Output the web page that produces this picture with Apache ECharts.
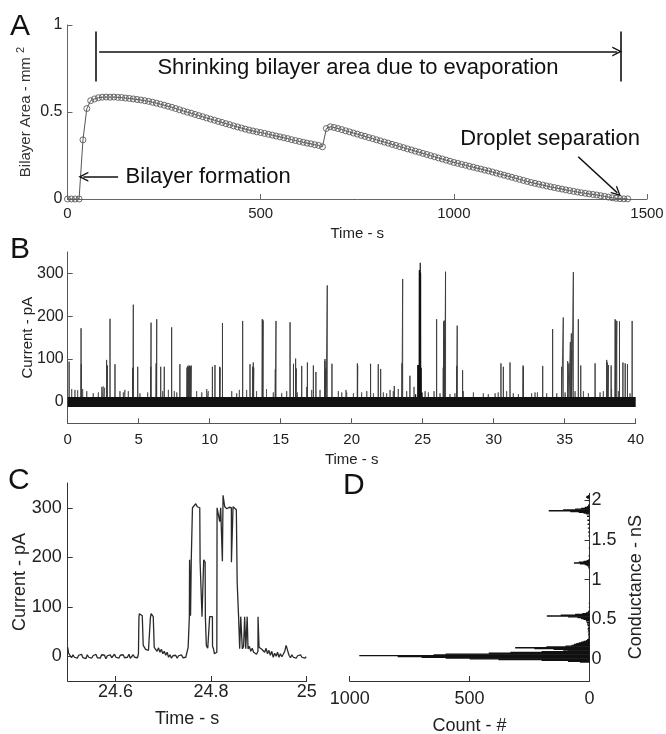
<!DOCTYPE html>
<html><head><meta charset="utf-8">
<script src="https://cdn.jsdelivr.net/npm/echarts@6/dist/echarts.min.js"></script>
<style>html,body{margin:0;padding:0;background:#fff}#c{width:666px;height:734px}</style>
</head><body><div id="c"></div>
<script>
// ---------- Panel A: bilayer area vs time ----------
const aTime = [0,10,20,30,40,50,60,70,80,90,100,110,120,130,140,150,160,170,180,190,200,210,220,230,240,250,260,270,280,290,300,310,320,330,340,350,360,370,380,390,400,410,420,430,440,450,460,470,480,490,500,510,520,530,540,550,560,570,580,590,600,610,620,630,640,650,660,670,680,690,700,710,720,730,740,750,760,770,780,790,800,810,820,830,840,850,860,870,880,890,900,910,920,930,940,950,960,970,980,990,1000,1010,1020,1030,1040,1050,1060,1070,1080,1090,1100,1110,1120,1130,1140,1150,1160,1170,1180,1190,1200,1210,1220,1230,1240,1250,1260,1270,1280,1290,1300,1310,1320,1330,1340,1350,1360,1370,1380,1390,1400,1410,1420,1430,1440,1450];
const aArea = [0,0,0,0,0.34,0.52,0.565,0.575,0.582,0.585,0.586,0.585,0.586,0.584,0.583,0.580,0.578,0.575,0.572,0.569,0.565,0.561,0.556,0.551,0.545,0.539,0.533,0.527,0.520,0.513,0.506,0.499,0.493,0.486,0.479,0.473,0.466,0.459,0.453,0.446,0.440,0.433,0.427,0.420,0.414,0.408,0.402,0.396,0.391,0.386,0.382,0.377,0.372,0.367,0.362,0.357,0.352,0.347,0.341,0.336,0.331,0.326,0.321,0.317,0.312,0.308,0.300,0.405,0.415,0.411,0.405,0.399,0.392,0.386,0.379,0.373,0.366,0.360,0.353,0.347,0.340,0.334,0.327,0.321,0.314,0.308,0.301,0.295,0.288,0.282,0.275,0.269,0.262,0.256,0.249,0.243,0.236,0.230,0.223,0.217,0.210,0.205,0.199,0.194,0.188,0.183,0.177,0.172,0.166,0.161,0.155,0.149,0.143,0.137,0.131,0.125,0.119,0.113,0.107,0.101,0.095,0.090,0.085,0.080,0.075,0.070,0.066,0.061,0.057,0.052,0.048,0.044,0.040,0.036,0.033,0.029,0.026,0.023,0.019,0.015,0.011,0.007,0.004,0.002,0.001,0.001];
const aXTicks = [0,500,1000,1500];
const aYTicks = [0,0.5,1];

// ---------- Panel B: current trace, 40 s ----------
const bSpikeTime = [0.10,0.94,0.96,2.74,2.80,2.98,3.33,4.58,4.60,4.62,4.93,5.85,5.87,6.23,6.25,6.27,6.55,6.80,7.32,7.90,8.40,8.45,8.50,8.55,8.60,8.65,8.70,10.19,10.37,10.70,10.73,10.90,12.32,12.84,13.03,13.07,13.10,13.70,13.73,13.76,14.62,14.67,15.66,15.90,16.05,16.10,16.48,16.88,17.30,17.48,18.10,18.12,18.16,18.20,18.28,18.61,20.40,20.42,21.33,21.87,22.04,23.00,23.54,23.59,24.10,25.98,26.45,26.48,26.52,26.55,26.61,27.40,27.43,27.81,30.51,30.68,31.15,32.07,32.09,33.45,34.15,34.79,34.90,35.21,35.30,35.40,35.47,35.50,35.61,35.96,36.13,37.14,37.96,38.00,38.08,38.27,38.55,38.60,38.67,38.86,39.10,39.26,39.42,39.75];
const bSpikeHeight = [94,172,88,98,85,194,88,78,80,227,82,82,185,90,88,193,82,82,174,88,80,84,82,85,84,82,85,82,86,82,80,184,189,88,82,92,80,193,192,190,76,189,186,89,101,78,84,92,85,70,95,100,74,80,272,89,90,85,89,88,77,37,90,287,61,193,80,188,190,150,304,84,178,74,90,82,92,85,82,84,170,82,197,95,90,140,160,120,303,193,85,90,98,92,86,85,193,190,189,188,92,90,88,189];
const bSmallTime = [0.28,0.51,0.70,1.05,1.34,1.80,2.16,2.40,2.50,2.60,3.68,3.92,4.03,4.27,5.09,5.63,6.69,7.09,7.51,7.68,9.08,9.44,9.79,9.90,11.55,11.90,12.09,12.60,13.30,14.00,14.48,15.07,15.42,16.17,16.83,17.18,17.77,19.06,19.30,19.60,19.65,20.12,20.70,21.06,21.53,22.23,22.46,22.70,22.93,23.28,23.87,24.39,25.17,25.40,25.80,26.22,26.92,27.27,27.86,28.57,29.27,29.62,30.10,30.32,30.91,31.38,31.74,32.67,32.91,33.08,33.73,34.44,35.03,35.73,36.32,36.67,37.49,37.72,38.30,38.78,39.60];
const bSmallHeight = [30,28,27,30,25,20,22,35,36,33,25,22,28,25,20,22,25,28,25,22,25,22,30,25,25,20,28,28,25,30,22,20,25,22,35,28,28,25,22,28,22,20,22,25,20,22,20,28,25,30,25,35,25,22,25,20,18,20,25,22,20,18,20,22,25,20,18,20,22,22,20,20,22,25,25,20,22,25,30,25,20];
const bBaselineTime = [0, 40];
const bBaselineLevel = [0, 0];
const bXTicks = [0,5,10,15,20,25,30,35,40];
const bYTicks = [0,100,200,300];

// ---------- Panel C: zoom 24.5 - 25 s ----------
const cTime = [24.500,24.502,24.505,24.508,24.511,24.514,24.517,24.520,24.523,24.526,24.529,24.532,24.535,24.538,24.541,24.544,24.547,24.550,24.553,24.556,24.559,24.562,24.565,24.568,24.571,24.574,24.577,24.580,24.583,24.586,24.589,24.592,24.595,24.598,24.601,24.604,24.607,24.610,24.613,24.616,24.619,24.622,24.625,24.628,24.631,24.634,24.637,24.640,24.643,24.646,24.6480,24.6490,24.6500,24.6520,24.6540,24.6560,24.6570,24.6580,24.6600,24.6630,24.6660,24.6690,24.6720,24.6730,24.6745,24.6770,24.6790,24.6800,24.6810,24.6840,24.6870,24.6900,24.6930,24.6960,24.6990,24.7020,24.7050,24.7080,24.7110,24.7140,24.7170,24.7200,24.7230,24.7260,24.7290,24.7320,24.7350,24.7380,24.7410,24.7440,24.7470,24.7500,24.7520,24.7535,24.7545,24.7550,24.7565,24.7570,24.7580,24.7585,24.7600,24.7610,24.7650,24.7680,24.7710,24.7740,24.7763,24.7770,24.7800,24.7810,24.7830,24.7845,24.7875,24.7880,24.7895,24.7900,24.7930,24.7960,24.7970,24.8000,24.8027,24.8030,24.8050,24.8070,24.8100,24.8120,24.8125,24.8160,24.8180,24.8200,24.8230,24.8236,24.8245,24.8250,24.8265,24.8285,24.8330,24.8380,24.8424,24.8425,24.8455,24.8459,24.8500,24.8528,24.8545,24.8575,24.8590,24.8598,24.8610,24.8620,24.8640,24.8653,24.8680,24.8702,24.8720,24.8725,24.8740,24.8755,24.8770,24.8772,24.8800,24.8830,24.8860,24.8890,24.8920,24.8950,24.8980,24.8982,24.9000,24.9003,24.9030,24.9060,24.9090,24.9120,24.9150,24.9180,24.9210,24.9240,24.9270,24.9300,24.9330,24.9360,24.9390,24.9420,24.9450,24.9480,24.9510,24.9540,24.9570,24.9600,24.9630,24.9660,24.9690,24.9720,24.9750,24.9780,24.9810,24.9840,24.9870,24.9900,24.9930,24.9960,24.9990];
const cCurrent = [18,6,2,-3,3,-2,1,-4,2,-1,4,-3,0,-5,3,-2,2,-4,1,-2,4,-3,0,-4,3,-1,2,-5,1,-2,3,-3,0,4,-2,1,-4,2,-1,3,-3,1,-2,4,-4,0,3,-2,2,-3,5,78,86,84,88,82,80,22,18,14,18,12,15,78,86,84,80,82,18,14,10,17,8,14,5,10,2,8,-2,3,-4,1,-3,2,-4,1,-2,3,-3,0,-2,2,18,22,80,195,192,82,80,194,190,300,303,308,302,300,300,190,192,80,78,195,190,80,78,22,16,20,80,82,80,20,15,5,3,8,300,298,272,300,298,192,190,325,315,302,298,301,300,190,190,302,300,296,150,80,82,15,18,80,80,15,20,80,80,15,18,80,80,15,20,10,16,8,12,4,10,80,80,18,22,14,18,8,16,5,12,2,10,-2,6,0,8,-2,5,-1,4,10,22,12,2,-3,3,-2,2,-4,1,-3,3,-2,2,-4,-1];
const cXTicks = [24.6,24.8,25];
const cYTicks = [0,100,200,300];

// ---------- Panel D: conductance histogram ----------
const dConductance = [-0.04,-0.03,-0.02,-0.01,0.00,0.01,0.02,0.03,0.04,0.05,0.06,0.07,0.08,0.09,0.10,0.11,0.12,0.13,0.14,0.15,0.16,0.17,0.18,0.19,0.20,0.21,0.22,0.23,0.24,0.26,0.28,0.30,0.32,0.34,0.36,0.38,0.40,0.42,0.44,0.46,0.48,0.50,0.51,0.52,0.53,0.54,0.55,0.56,0.57,0.58,0.59,0.60,0.65,0.70,1.15,1.17,1.18,1.19,1.20,1.21,1.22,1.23,1.24,1.25,1.30,1.40,1.55,1.60,1.65,1.70,1.75,1.80,1.83,1.84,1.85,1.86,1.87,1.88,1.89,1.90,1.91,1.92,1.94,2.00,2.03,2.04,2.05,2.06];
const dCount = [40,90,200,380,500,600,700,800,960,650,600,420,330,200,110,90,150,230,310,180,100,75,65,55,45,35,25,15,10,5,4,6,5,7,6,8,6,8,10,12,15,25,35,50,90,178,120,60,30,15,8,5,3,3,5,8,12,20,40,65,45,25,12,6,4,3,4,6,7,8,9,10,15,25,45,80,170,110,60,35,20,10,6,5,10,14,12,6];
const dBinWidth = 0.01;
const dXTicks = [0,500,1000];
const dYTicks = [0,0.5,1,1.5,2];

// ---------- chart ----------
const FONT = 'Liberation Sans, Arial, Helvetica, sans-serif';
const chart = echarts.init(document.getElementById('c'), null, {renderer:'canvas'});
const pairs = (xs, ys) => xs.map((x, i) => [x, ys[i]]);
const spikes = (ts, hs) => { const out = []; ts.forEach((t, i) => { out.push([t, 0], [t, hs[i]], [t, 0]); }); return out; };
const arrowHead = 'path://M0,12 L6,0 L12,12 L10.2,12 L6,3.6 L1.8,12 Z';
const plain = v => String(+v.toFixed(4));

function axisBase(color, fs, lblColor) {
  return {
    axisLine: {show: true, onZero: false, lineStyle: {color: color, width: 1}},
    splitLine: {show: false},
    nameMoveOverlap: false,
    nameTextStyle: {fontSize: fs, color: lblColor, fontFamily: FONT},
  };
}

const option = {
  animation: false,
  backgroundColor: '#fff',
  textStyle: {fontFamily: FONT},
  grid: [
    {left: 67.5, top: 25, width: 579.5, height: 174, outerBoundsMode: 'none'},
    {left: 67.7, top: 252, width: 568, height: 171.3, outerBoundsMode: 'none'},
    {left: 67.7, top: 483, width: 239, height: 198, outerBoundsMode: 'none'},
    {left: 349.7, top: 493.3, width: 239.8, height: 187.7, outerBoundsMode: 'none'}
  ],
  xAxis: [
    Object.assign(axisBase('#666', 15, '#222'), {
      gridIndex: 0, type: 'value', min: 0, max: 1500,
      name: 'Time - s', nameLocation: 'middle', nameGap: 27,
      axisTick: {show: true, inside: true, length: 5, customValues: aXTicks, lineStyle: {color: '#666'}},
      axisLabel: {fontSize: 15, color: '#222', margin: 7, customValues: aXTicks, formatter: plain}
    }),
    Object.assign(axisBase('#555', 15, '#222'), {
      gridIndex: 1, type: 'value', min: 0, max: 40,
      name: 'Time - s', nameLocation: 'middle', nameGap: 29,
      axisTick: {show: true, inside: true, length: 5, customValues: bXTicks, lineStyle: {color: '#555'}},
      axisLabel: {fontSize: 15, color: '#222', margin: 9, customValues: bXTicks, formatter: plain}
    }),
    Object.assign(axisBase('#333', 18, '#222'), {
      gridIndex: 2, type: 'value', min: 24.5, max: 25,
      name: 'Time - s', nameLocation: 'middle', nameGap: 29,
      axisTick: {show: true, inside: true, length: 5, customValues: cXTicks, lineStyle: {color: '#333'}},
      axisLabel: {fontSize: 18, color: '#222', margin: 2, customValues: cXTicks, formatter: plain}
    }),
    Object.assign(axisBase('#333', 18, '#222'), {
      gridIndex: 3, type: 'value', min: 0, max: 1000, inverse: true,
      name: 'Count - #', nameLocation: 'middle', nameGap: 36,
      axisTick: {show: true, inside: true, length: 5, customValues: dXTicks, lineStyle: {color: '#333'}},
      axisLabel: {fontSize: 18, color: '#222', margin: 9, customValues: dXTicks, formatter: plain}
    })
  ],
  yAxis: [
    Object.assign(axisBase('#666', 15, '#222'), {
      gridIndex: 0, type: 'value', min: 0, max: 1,
      name: 'Bilayer Area - mm {s|2}', nameLocation: 'middle', nameGap: 32,
      nameTextStyle: {fontSize: 15, color: '#333', fontFamily: FONT,
        rich: {s: {fontSize: 11, color: '#333', fontFamily: FONT, padding: [0, 0, 9, 0]}}},
      axisTick: {show: true, inside: true, length: 5, customValues: aYTicks, lineStyle: {color: '#666'}},
      axisLabel: {fontSize: 16, color: '#222', margin: 5, customValues: aYTicks, formatter: plain}
    }),
    Object.assign(axisBase('#555', 15, '#222'), {
      gridIndex: 1, type: 'value', min: -50, max: 350,
      name: 'Current - pA', nameLocation: 'middle', nameGap: 32,
      axisTick: {show: true, inside: true, length: 5, customValues: bYTicks, lineStyle: {color: '#555'}},
      axisLabel: {fontSize: 16, color: '#222', margin: 4, customValues: bYTicks, formatter: plain}
    }),
    Object.assign(axisBase('#333', 18, '#222'), {
      gridIndex: 2, type: 'value', min: -50, max: 350,
      name: 'Current - pA', nameLocation: 'middle', nameGap: 39,
      axisTick: {show: true, inside: true, length: 5, customValues: cYTicks, lineStyle: {color: '#333'}},
      axisLabel: {fontSize: 18, color: '#222', margin: 6, customValues: cYTicks, formatter: plain}
    }),
    Object.assign(axisBase('#333', 18, '#222'), {
      gridIndex: 3, type: 'value', min: -0.28, max: 2.09, position: 'right',
      name: 'Conductance - nS', nameLocation: 'middle', nameGap: 38, nameRotate: 90,
      axisTick: {show: true, inside: true, length: 5, customValues: dYTicks, lineStyle: {color: '#333'}},
      axisLabel: {fontSize: 18, color: '#222', margin: 2, customValues: dYTicks, formatter: plain}
    })
  ],
  series: [
    {
      type: 'line', xAxisIndex: 0, yAxisIndex: 0, data: pairs(aTime, aArea),
      symbol: 'circle', symbolSize: 6, showSymbol: true,
      lineStyle: {color: '#555', width: 1},
      itemStyle: {color: 'rgba(0,0,0,0)', borderColor: '#5a5a5a', borderWidth: 0.9},
      silent: true,
      markLine: {
        silent: true, animation: false,
        symbolSize: [10, 10],
        label: {show: false},
        lineStyle: {color: '#111', width: 1.6, type: 'solid'},
        data: [
          [{coord: [82, 0.847], symbol: 'none'}, {coord: [1423, 0.847], symbol: arrowHead}],
          [{coord: [73, 0.962], symbol: 'none'}, {coord: [73, 0.675], symbol: 'none'}],
          [{coord: [1432, 0.962], symbol: 'none'}, {coord: [1432, 0.675], symbol: 'none'}],
          [{coord: [131, 0.128], symbol: 'none'}, {coord: [41, 0.128], symbol: arrowHead}],
          [{coord: [1322, 0.243], symbol: 'none'}, {coord: [1423, 0.036], symbol: arrowHead}]
        ]
      },
      markPoint: {
        silent: true, animation: false, symbol: 'circle', symbolSize: 1,
        itemStyle: {color: 'rgba(0,0,0,0)'},
        label: {show: true, position: 'inside', fontSize: 22, color: '#111', fontFamily: FONT},
        data: [
          {coord: [752, 0.751], label: {formatter: 'Shrinking bilayer area due to evaporation'}},
          {coord: [364, 0.128], label: {formatter: 'Bilayer formation'}},
          {coord: [1249, 0.343], label: {formatter: 'Droplet separation'}}
        ]
      }
    },
    {
      type: 'line', xAxisIndex: 1, yAxisIndex: 1, data: pairs(bBaselineTime, bBaselineLevel),
      symbol: 'none', lineStyle: {color: '#111', width: 10}, silent: true, z: 3
    },
    {
      type: 'line', xAxisIndex: 1, yAxisIndex: 1, data: spikes(bSmallTime, bSmallHeight),
      symbol: 'none', lineStyle: {color: '#555', width: 0.9}, silent: true, z: 2
    },
    {
      type: 'line', xAxisIndex: 1, yAxisIndex: 1, data: spikes(bSpikeTime, bSpikeHeight),
      symbol: 'none', lineStyle: {color: '#3a3a3a', width: 0.9}, silent: true, z: 2
    },
    {
      type: 'line', xAxisIndex: 1, yAxisIndex: 1, data: pairs(cTime, cCurrent),
      symbol: 'none', lineStyle: {color: '#111', width: 1.2}, silent: true, z: 2
    },
    {
      type: 'line', xAxisIndex: 2, yAxisIndex: 2, data: pairs(cTime, cCurrent),
      symbol: 'none', lineStyle: {color: '#2a2a2a', width: 1.3}, silent: true
    },
    {
      type: 'custom', xAxisIndex: 3, yAxisIndex: 3, silent: true, clip: true,
      data: pairs(dCount, dConductance),
      encode: {x: 0, y: 1},
      renderItem: function (params, api) {
        const c = api.value(0), g = api.value(1);
        const p1 = api.coord([0, g + dBinWidth / 2]);
        const p2 = api.coord([c, g - dBinWidth / 2]);
        return {
          type: 'rect',
          shape: {x: Math.min(p1[0], p2[0]), y: Math.min(p1[1], p2[1]) - 0.3,
                  width: Math.abs(p2[0] - p1[0]), height: Math.max(1.4, Math.abs(p2[1] - p1[1]) + 0.6)},
          style: {fill: '#111'}
        };
      }
    }
  ],
  graphic: [
    {type: 'text', left: 10, top: 12, style: {text: 'A', fontSize: 30, fill: '#111', fontFamily: FONT}},
    {type: 'text', left: 10, top: 235, style: {text: 'B', fontSize: 30, fill: '#111', fontFamily: FONT}},
    {type: 'text', left: 8, top: 466, style: {text: 'C', fontSize: 30, fill: '#111', fontFamily: FONT}},
    {type: 'text', left: 343, top: 471, style: {text: 'D', fontSize: 30, fill: '#111', fontFamily: FONT}}
  ]
};
chart.setOption(option);
</script>
</body></html>
